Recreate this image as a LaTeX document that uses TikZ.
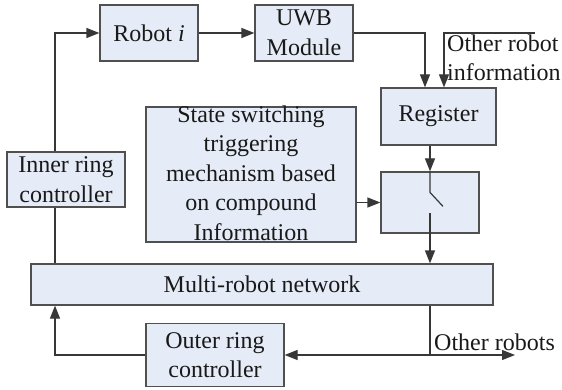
\documentclass[tikz,border=0pt]{standalone}
\usepackage{fontspec}
\setmainfont{Liberation Serif}
\usetikzlibrary{arrows.meta}
\definecolor{boxfill}{RGB}{229,236,247}
\definecolor{boxdraw}{RGB}{80,80,80}
\definecolor{linecol}{RGB}{55,55,55}
\begin{document}
\begin{tikzpicture}[x=1pt,y=-1pt,
  txt/.style={font=\fontsize{24}{29.5}\selectfont, text=black!90, align=center, inner sep=0pt},
  blk/.style={txt, draw=boxdraw, fill=boxfill, line width=1.2pt, rectangle},
  conn/.style={draw=linecol, line width=1.2pt},
  arr/.style={conn, -{Triangle[length=13pt,width=10pt]}}]
\useasboundingbox (0,0) rectangle (562,390);
% boxes
\node[blk, minimum width=98pt, minimum height=56pt] (robot) at (149,33) {Robot \textit{i}};
\node[blk, minimum width=98pt, minimum height=56pt] (uwb) at (304,33) {UWB\\Module};
\node[blk, minimum width=115pt, minimum height=57pt] (reg) at (438.5,116.5) {Register};
\node[blk, minimum width=98pt, minimum height=61pt] (sw) at (430,202.5) {};
\node[blk, minimum width=210pt, minimum height=135pt] (state) at (251,174.5) {};
\node[txt] (statetxt) at (251,173) {State switching\\triggering\\mechanism based\\on compound\\Information};
\node[blk, minimum width=118pt, minimum height=55pt] (inner) at (66,179.5) {Inner ring\\controller};
\node[blk, minimum width=462pt, minimum height=41pt] (net) at (262,284.5) {Multi-robot network};
\node[blk, minimum width=138pt, minimum height=63pt] (outer) at (215,355) {Outer ring\\controller};
% labels
\node[txt, anchor=base west] (othinfo1) at (447,52) {Other robot};
\node[txt, anchor=base west] (othinfo2) at (447,81) {information};
\node[txt, anchor=base west] (othrob) at (434,350) {Other robots};
% coordinates
\coordinate (lx) at (55,0);
\coordinate (oth) at (535,33);
\coordinate (split) at (430,355);
\coordinate (othend) at (515,355);
% connectors
\draw[arr] (inner.north -| lx) |- (robot.west);
\draw[conn] (inner.south -| lx) -- (net.north -| lx);
\draw[arr] (robot.east) -- (uwb.west);
\draw[arr] (uwb.east) -| ([xshift=-13.5pt]reg.north);
\draw[arr] (oth) -| ([xshift=5.5pt]reg.north);
\draw[arr] (reg.south -| sw.north) -- (sw.north);
\draw[conn] (sw.north) -- ++(0,21) -- ++(13,14);
\draw[arr] ([yshift=-10.5pt]sw.center) -- (sw.center |- net.north);
\draw[arr] (state.east |- sw.west) -- (sw.west);
\draw[conn] (split |- net.south) -- (split);
\draw[arr] (split) -- (outer.east);
\draw[arr] (split) -- (othend);
\draw[arr] (outer.west) -| (net.south -| lx);
\end{tikzpicture}
\end{document}
